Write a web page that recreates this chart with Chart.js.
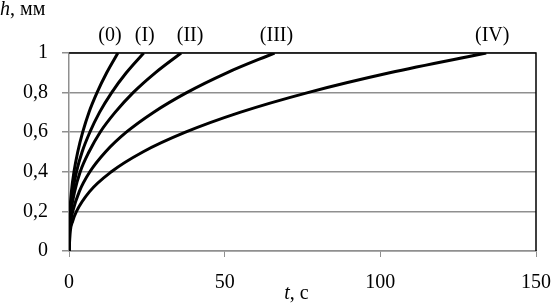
<!DOCTYPE html>
<html>
<head>
<meta charset="utf-8">
<script src="https://cdn.jsdelivr.net/npm/chart.js@4.4.1/dist/chart.umd.min.js"></script>
<style>
  html, body { margin: 0; padding: 0; background: #fff; }
  canvas { display: block; }
</style>
</head>
<body>
<canvas id="hChart" width="551" height="307"></canvas>
<script>
// h levels (mm) shared by all curves, and t (s) at each level
const hLevels = [0, 0.1, 0.15, 0.2, 0.3, 0.4, 0.5, 0.6, 0.7, 0.8, 0.9, 1];
const tCurve0 = [0, 0.05, 0.14, 0.28, 0.77, 1.6, 2.8, 4.4, 6.4, 9.0, 12.1, 15.7];
const tCurve1 = [0, 0.08, 0.21, 0.43, 1.18, 2.4, 4.2, 6.7, 9.8, 13.7, 18.4, 24];
const tCurve2 = [0, 0.11, 0.31, 0.64, 1.8, 3.6, 6.4, 10.0, 14.8, 20.6, 27.7, 36];
const tCurve3 = [0, 0.21, 0.57, 1.2, 3.3, 6.7, 11.7, 18.4, 27.1, 37.8, 50.7, 66];
const tCurve4 = [0, 0.42, 1.17, 2.4, 6.6, 13.6, 23.7, 37.4, 54.9, 76.7, 103, 134];
const curveNames = ['(0)', '(I)', '(II)', '(III)', '(IV)'];
const xTicks = [0, 50, 100, 150];
const yTickLabels = ['0', '0,2', '0,4', '0,6', '0,8', '1'];

const FONT = '"Liberation Serif", "Times New Roman", serif';
const FS = 20;
const GRID = '#8f8f8f';

const curves = [tCurve0, tCurve1, tCurve2, tCurve3, tCurve4];
const datasets = curves.map((ts, i) => ({
    label: curveNames[i],
    data: ts.map((t, k) => ({ x: t, y: hLevels[k] })),
    borderColor: '#000',
    borderWidth: 3,
    pointRadius: 0,
    showLine: true,
    fill: false,
    cubicInterpolationMode: 'monotone'
}));

// frame + text labels drawn on top
const decor = {
    id: 'decor',
    afterDraw(chart) {
        const { ctx, chartArea: a, scales } = chart;
        ctx.save();
        ctx.strokeStyle = '#000';
        ctx.lineWidth = 1.5;
        ctx.beginPath();
        ctx.moveTo(a.left, a.top);
        ctx.lineTo(a.right, a.top);
        ctx.lineTo(a.right, a.bottom);
        ctx.stroke();

        ctx.fillStyle = '#000';
        ctx.textBaseline = 'alphabetic';
        // curve names above their end points
        const shift = [-8, 1, 9, 2, 6];
        ctx.textAlign = 'center';
        ctx.font = FS + 'px ' + FONT;
        curves.forEach((ts, i) => {
            const x = scales.x.getPixelForValue(ts[ts.length - 1]) + shift[i];
            ctx.fillText(curveNames[i], x, 41);
        });

        // axis titles with italic variable
        function mixed(parts, x, y, align) {
            let w = 0;
            parts.forEach(p => { ctx.font = p[1] + FS + 'px ' + FONT; w += ctx.measureText(p[0]).width; });
            let cx = align === 'center' ? x - w / 2 : x;
            ctx.textAlign = 'left';
            parts.forEach(p => {
                ctx.font = p[1] + FS + 'px ' + FONT;
                ctx.fillText(p[0], cx, y);
                cx += ctx.measureText(p[0]).width;
            });
        }
        mixed([['h', 'italic '], [', мм', '']], 0, 15, 'left');
        mixed([['t', 'italic '], [', с', '']], (a.left + a.right) / 2 - 6, 299, 'center');
        ctx.restore();
    }
};

function drawChart() {
    const ctx = document.getElementById('hChart').getContext('2d');
    new Chart(ctx, {
        type: 'scatter',
        data: { datasets: datasets },
        options: {
            responsive: false,
            animation: false,
            layout: { padding: { top: 53, right: 15, left: 0, bottom: 0 } },
            plugins: {
                legend: { display: false },
                tooltip: { enabled: false }
            },
            scales: {
                x: {
                    type: 'linear',
                    min: 0,
                    max: 150,
                    afterBuildTicks: s => { s.ticks = xTicks.map(v => ({ value: v })); },
                    afterFit: s => { s.height = 56; s.paddingLeft = 0; s.paddingRight = 0; },
                    grid: { drawOnChartArea: false, drawTicks: true, tickLength: 6, color: GRID },
                    border: { color: GRID, width: 1.5 },
                    ticks: { color: '#000', padding: 14, font: { family: FONT, size: FS } }
                },
                y: {
                    type: 'linear',
                    min: 0,
                    max: 1,
                    afterBuildTicks: s => { s.ticks = yTickLabels.map((_, i) => ({ value: i * 0.2 })); },
                    afterFit: s => { s.width = 69; s.paddingTop = 0; s.paddingBottom = 0; },
                    grid: { color: GRID, lineWidth: 1.5, tickLength: 7 },
                    border: { color: GRID, width: 1.5 },
                    ticks: {
                        color: '#000',
                        padding: 14,
                        font: { family: FONT, size: FS },
                        callback: (v, i) => yTickLabels[i]
                    }
                }
            }
        },
        plugins: [decor]
    });
}

Promise.all([
    document.fonts.load(FS + 'px "Liberation Serif"'),
    document.fonts.load('italic ' + FS + 'px "Liberation Serif"')
]).then(drawChart, drawChart);
</script>
</body>
</html>
